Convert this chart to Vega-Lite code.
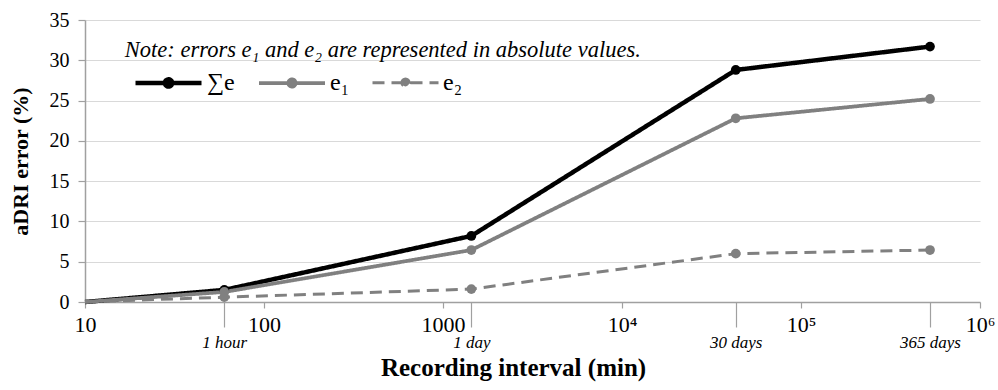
{
  "$schema": "https://vega.github.io/schema/vega-lite/v6.json",
  "width": 895,
  "height": 282,
  "autosize": "none",
  "padding": {"left": 85, "top": 20, "right": 18, "bottom": 88},
  "background": "white",
  "config": {
    "font": "Liberation Serif",
    "view": {"stroke": null},
    "text": {"font": "Liberation Serif"},
    "axis": {"labelFont": "Liberation Serif", "titleFont": "Liberation Serif", "domainColor": "#a0a0a0", "domainWidth": 1.5, "tickColor": "#a0a0a0", "tickWidth": 1.2, "labelColor": "#000", "titleColor": "#000"},
    "legend": {"labelFont": "Liberation Serif", "labelColor": "#000"}
  },
  "layer": [
    {
      "data": {
        "values": [
          {"minutes": 10, "series": "∑e", "value": 0},
          {"minutes": 60, "series": "∑e", "value": 1.5},
          {"minutes": 1440, "series": "∑e", "value": 8.2},
          {"minutes": 43200, "series": "∑e", "value": 28.8},
          {"minutes": 525600, "series": "∑e", "value": 31.7},
          {"minutes": 10, "series": "e₁", "value": 0},
          {"minutes": 60, "series": "e₁", "value": 1.25},
          {"minutes": 1440, "series": "e₁", "value": 6.45},
          {"minutes": 43200, "series": "e₁", "value": 22.8},
          {"minutes": 525600, "series": "e₁", "value": 25.2},
          {"minutes": 10, "series": "e₂", "value": 0},
          {"minutes": 60, "series": "e₂", "value": 0.6},
          {"minutes": 1440, "series": "e₂", "value": 1.6},
          {"minutes": 43200, "series": "e₂", "value": 6.0},
          {"minutes": 525600, "series": "e₂", "value": 6.45}
        ]
      },
      "encoding": {
        "x": {
          "field": "minutes",
          "type": "quantitative",
          "scale": {"type": "log", "domain": [10, 1000000], "nice": false},
          "axis": {
            "title": "Recording interval (min)",
            "titleFontSize": 25,
            "titleFontWeight": "bold",
            "titlePadding": 5,
            "titleX": 428,
            "grid": false,
            "values": [10, 60, 100, 1000, 1440, 10000, 43200, 100000, 525600, 1000000],
            "labelExpr": "datum.value==60?'1 hour':datum.value==1440?'1 day':datum.value==43200?'30 days':datum.value==525600?'365 days':datum.value==10000?'10⁴':datum.value==100000?'10⁵':datum.value==1000000?'10⁶':datum.value==10?'10':datum.value==100?'100':'1000'",
            "labelOverlap": false,
            "labelBound": false,
            "labelFlush": false,
            "tickSize": {"condition": {"test": "indexof([60,1440,43200,525600], datum.value) >= 0", "value": 25}, "value": 6},
            "labelPadding": {"condition": {"test": "indexof([60,1440,43200,525600], datum.value) >= 0", "value": 7}, "value": 6},
            "labelFontSize": {"condition": {"test": "indexof([60,1440,43200,525600], datum.value) >= 0", "value": 17}, "value": 22},
            "labelFontStyle": {"condition": {"test": "indexof([60,1440,43200,525600], datum.value) >= 0", "value": "italic"}, "value": "normal"}
          }
        },
        "y": {
          "field": "value",
          "type": "quantitative",
          "scale": {"domain": [0, 35], "nice": false},
          "axis": {
            "title": "aDRI error (%)",
            "titleFontSize": 22,
            "titleFontWeight": "bold",
            "titlePadding": 17,
            "values": [0, 5, 10, 15, 20, 25, 30, 35],
            "labelFontSize": 20,
            "tickSize": 7,
            "labelPadding": 9,
            "gridColor": "#d9d9d9",
            "gridWidth": 1.2
          }
        },
        "color": {
          "field": "series",
          "type": "nominal",
          "scale": {"domain": ["∑e", "e₁", "e₂"], "range": ["#000000", "#808080", "#808080"]},
          "legend": {
            "title": null,
            "orient": "none",
            "direction": "horizontal",
            "legendX": 48,
            "legendY": 27,
            "padding": 0,
            "labelFontSize": 24,
            "labelOffset": 3,
            "columnPadding": 16,
            "symbolType": "M-1,0L1,0M-0.11,0A0.11,0.11,0,1,1,0.11,0A0.11,0.11,0,1,1,-0.11,0Z",
            "symbolSize": 4356
          }
        },
        "strokeDash": {
          "field": "series",
          "type": "nominal",
          "scale": {"domain": ["∑e", "e₁", "e₂"], "range": [[1, 0], [1, 0], [12, 7]]},
          "legend": null
        },
        "strokeWidth": {
          "field": "series",
          "type": "nominal",
          "scale": {"domain": ["∑e", "e₁", "e₂"], "range": [4.5, 3, 4]},
          "legend": null
        }
      },
      "layer": [
        {"mark": {"type": "line"}},
        {
          "transform": [{"filter": "datum.minutes > 10"}],
          "mark": {"type": "point", "filled": true, "size": 95, "opacity": 1, "strokeWidth": 0}
        }
      ]
    },
    {
      "data": {"values": [{"minutes": 16.7, "value": 31.3, "note": "Note: errors e₁  and e₂  are represented in absolute values."}]},
      "mark": {"type": "text", "align": "left", "baseline": "middle", "fontStyle": "italic", "fontSize": 22.5, "font": "Liberation Serif", "color": "#000"},
      "encoding": {
        "x": {"field": "minutes", "type": "quantitative"},
        "y": {"field": "value", "type": "quantitative"},
        "text": {"field": "note"}
      }
    }
  ]
}
